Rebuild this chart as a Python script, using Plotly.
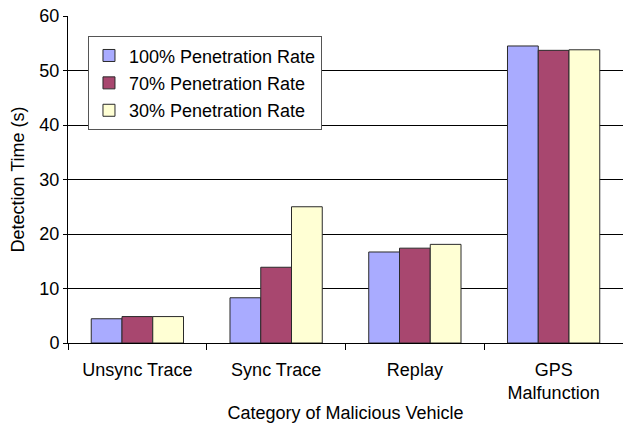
import plotly.graph_objects as go

categories = ["Unsync Trace", "Sync Trace", "Replay", "GPS<br>Malfunction"]
series_names = ["100% Penetration Rate", "70% Penetration Rate", "30% Penetration Rate"]
rate_100 = [4.45, 8.3, 16.7, 54.5]
rate_70 = [4.85, 13.9, 17.4, 53.7]
rate_30 = [4.85, 25.0, 18.1, 53.8]
y_ticks = [0, 10, 20, 30, 40, 50, 60]

colors = ["#A9ABFF", "#A8476F", "#FFFFD4"]
font_family = "Liberation Sans, Arial, sans-serif"

fig = go.Figure()
for i, (name, vals) in enumerate(zip(series_names, [rate_100, rate_70, rate_30])):
    fig.add_trace(go.Bar(
        x=categories, y=vals, name=name, legendgroup=f"g{i}",
        marker=dict(color=colors[i], line=dict(color="#2a2a2a", width=1)),
    ))

fig.update_layout(
    width=623, height=424,
    margin=dict(l=68, r=0, t=16, b=81),
    paper_bgcolor="white", plot_bgcolor="white",
    font=dict(family=font_family, size=18, color="#000"),
    barmode="group", bargap=0.335, bargroupgap=0,
    legend=dict(
        x=0.036, y=0.938, xanchor="left", yanchor="top",
        bgcolor="white", bordercolor="#555", borderwidth=1,
        font=dict(size=18), traceorder="grouped", tracegroupgap=1,
        itemwidth=30,
    ),
    xaxis=dict(
        showline=True, linecolor="#000", linewidth=1,
        ticks="outside", ticklen=6, tickcolor="#000", tickson="boundaries",
        showgrid=False, ticklabelstandoff=10,
        tickfont=dict(size=18),
        title=dict(text="Category of Malicious Vehicle", standoff=4,
                   font=dict(size=18)),
    ),
    yaxis=dict(
        range=[0, 60], tickvals=y_ticks,
        showline=True, linecolor="#000", linewidth=1,
        ticks="outside", ticklen=4, tickcolor="#000",
        showgrid=True, gridcolor="#000", gridwidth=1,
        zeroline=False, tickfont=dict(size=18),
        title=dict(text="Detection Time (s)", standoff=10,
                   font=dict(size=18)),
    ),
)

fig.write_html("out.html")
